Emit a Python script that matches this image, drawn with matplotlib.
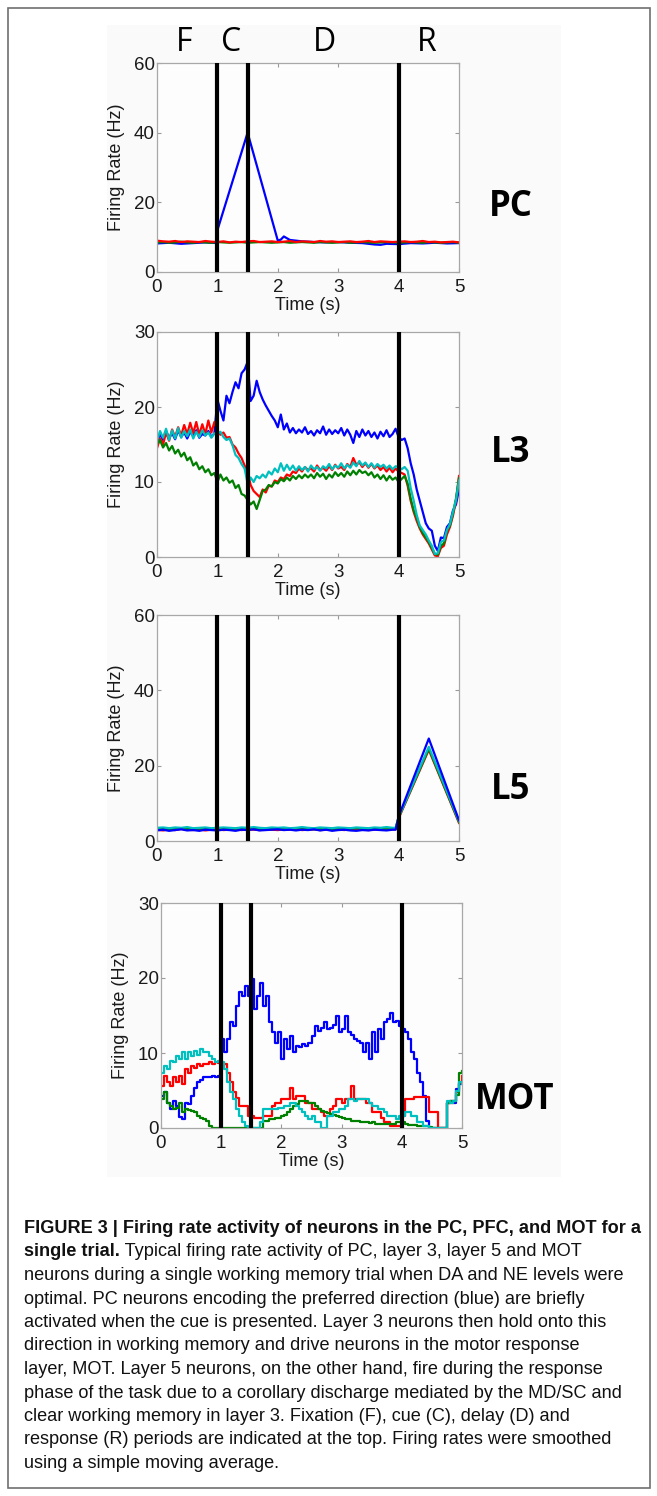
import numpy as np
import matplotlib
matplotlib.use("Agg")
import matplotlib.pyplot as plt
from matplotlib.patches import Rectangle
from matplotlib.transforms import blended_transform_factory

W, H = 657, 1496  # output size in px (dpi 100)

# ---------------- data ----------------
# common 50 ms time grid for the L3 and MOT traces
t_grid = np.round(np.arange(101) * 0.05, 2)

# PC layer
pc_blue_t = [0.0, 0.2, 0.4, 0.6, 0.8, 1.0, 1.0, 1.5, 2.0, 2.05, 2.1, 2.2, 2.4,
             2.6, 2.8, 3.0, 3.2, 3.4, 3.6, 3.7, 3.8, 4.0, 4.2, 4.4, 4.6, 4.8, 5.0]
pc_blue = [8.2, 8.4, 8.1, 8.3, 8.5, 8.3, 12.0, 40.0, 9.0, 9.3, 10.2, 9.2, 8.8,
           8.6, 8.5, 8.6, 8.4, 8.3, 7.9, 7.8, 8.1, 8.0, 8.3, 8.2, 8.4, 8.2, 8.3]
pc_t = np.round(np.arange(51) * 0.1, 1)
pc_green = [8.5, 8.6, 8.4, 8.5, 8.7, 8.5, 8.4, 8.6, 8.5, 8.4,
            8.6, 8.5, 8.4, 8.5, 8.6, 8.4, 8.5, 8.6, 8.5, 8.4,
            8.5, 8.6, 8.4, 8.5, 8.6, 8.5, 8.4, 8.6, 8.5, 8.4,
            8.5, 8.6, 8.4, 8.5, 8.6, 8.5, 8.4, 8.5, 8.6, 8.5,
            8.4, 8.5, 8.6, 8.5, 8.4, 8.6, 8.5, 8.4, 8.5, 8.6, 8.4]
pc_red = [9.0, 8.8, 8.7, 8.9, 8.6, 8.8, 8.7, 8.6, 8.9, 8.7,
          8.6, 8.8, 8.5, 8.7, 8.6, 8.8, 8.9, 8.6, 8.7, 8.8,
          8.6, 8.7, 8.9, 8.6, 8.8, 8.7, 8.6, 8.9, 8.7, 8.8,
          8.6, 8.7, 8.8, 8.6, 8.7, 8.9, 8.6, 8.8, 8.7, 8.6,
          8.7, 8.8, 8.6, 8.7, 8.9, 8.6, 8.7, 8.5, 8.6, 8.7, 8.5]

# layer 3
l3_blue = [15.2, 16.4, 15.6, 16.8, 15.9, 16.5, 15.7, 16.9, 16.0, 16.6,
           15.8, 16.7, 16.1, 16.9, 15.9, 16.4, 16.2, 16.8, 16.0, 16.5,
           21.0, 19.5, 18.2, 21.5, 20.5, 22.0, 23.3, 22.5, 24.5, 25.0,
           26.0, 20.8, 21.5, 23.5, 22.0, 21.0, 20.2, 19.5, 18.8, 18.2,
           17.3, 19.0, 17.0, 17.8, 16.6, 17.2, 16.5, 17.0, 16.6, 17.3,
           16.4, 16.8, 16.2, 16.9, 16.5, 17.4, 16.3, 17.0, 16.4, 16.9,
           16.5, 17.2, 16.2, 17.0, 16.3, 15.2, 16.8, 16.0, 17.0, 16.2,
           16.8, 16.0, 16.6, 15.8, 16.7, 16.1, 16.9, 16.0, 16.4, 17.1,
           16.0, 15.6, 15.8, 14.5, 12.5, 11.0, 9.0, 7.5, 6.0, 4.5,
           3.8, 3.5, 1.5, 0.8, 2.6, 2.5, 4.0, 4.5, 6.2, 7.0,
           9.0]
l3_red = [14.5, 15.8, 15.0, 16.6, 15.5, 17.0, 16.0, 17.3, 16.2, 17.6,
          16.4, 17.9, 16.5, 18.0, 16.3, 17.7, 16.4, 18.2, 16.6, 18.0,
          16.8, 16.3, 16.6, 15.9, 16.0, 15.0, 14.6, 13.8, 13.2, 12.2,
          11.4, 9.6, 8.8, 8.4, 8.0, 9.0, 8.6, 9.5, 9.4, 10.2,
          10.0, 10.6, 10.4, 11.0, 10.8, 11.4, 11.2, 11.8, 11.4, 12.0,
          11.6, 11.8, 11.4, 12.2, 11.6, 11.9, 11.5, 12.1, 11.6, 12.3,
          11.8, 12.0, 11.6, 12.4, 12.0, 13.2, 12.3, 12.6, 12.0, 12.5,
          11.9, 12.4, 11.8, 12.2, 11.6, 12.0, 11.4, 11.9, 11.3, 11.8,
          11.4, 11.2, 11.0, 9.5, 7.5, 6.0, 4.8, 3.8, 3.0, 2.4,
          1.8, 1.0, 0.2, 0.1, 1.2, 1.5, 3.0, 4.0, 5.5, 7.5,
          10.8]
l3_green = [15.0, 15.6, 14.6, 15.2, 14.2, 14.8, 13.8, 14.3, 13.4, 13.9,
            12.9, 13.3, 12.2, 12.6, 11.7, 12.1, 11.3, 11.7, 10.9, 11.2,
            10.0, 11.0, 10.2, 10.6, 9.9, 10.2, 9.2, 9.6, 8.4, 8.2,
            7.6, 7.0, 7.4, 6.4, 7.6, 8.8, 9.0, 9.6, 9.4, 10.0,
            9.8, 10.4, 10.1, 10.6, 10.2, 10.8, 10.4, 10.9, 10.5, 11.0,
            10.6, 11.0, 10.5, 11.2, 10.7, 11.1, 10.4, 11.0, 10.6, 11.3,
            10.8, 11.2, 10.7, 11.4, 10.9, 11.5, 11.0, 11.6, 11.2, 11.4,
            10.9, 11.3, 10.6, 11.0, 10.4, 10.9, 10.2, 10.8, 10.3, 10.6,
            10.0, 10.4, 10.8, 9.8, 7.8, 6.2, 5.2, 4.0, 3.2, 2.6,
            2.0, 1.2, 0.4, 0.3, 1.5, 1.8, 3.5, 4.2, 5.8, 7.8,
            10.5]
l3_cyan = [15.5, 16.8, 15.9, 17.1, 15.6, 16.9, 15.8, 17.2, 15.9, 16.8,
           16.1, 17.0, 15.8, 16.7, 16.0, 16.9, 16.2, 16.6, 15.9, 16.5,
           16.4, 16.7, 16.0, 15.6, 15.8, 14.9, 13.6, 13.2, 12.4, 11.8,
           9.8, 10.6, 10.0, 10.8, 10.5, 11.0, 10.6, 11.4, 11.0, 11.8,
           11.3, 12.5, 11.5, 12.3, 11.6, 12.2, 11.5, 12.1, 11.6, 12.0,
           11.4, 12.2, 11.7, 12.0, 11.5, 12.1, 11.8, 12.4, 11.7, 12.2,
           11.9, 12.5, 11.8, 12.3, 11.9, 12.6, 12.1, 12.8, 12.2, 12.6,
           12.0, 12.5, 11.9, 12.4, 12.0, 12.3, 11.8, 12.2, 11.7, 12.1,
           12.0, 11.7, 12.0, 11.5, 9.2, 7.5, 5.6, 4.2, 3.6, 3.0,
           2.2, 1.5, 0.4, 0.5, 2.0, 2.2, 3.6, 4.4, 6.0, 7.6,
           10.2]

# layer 5
l5_t = [0.0, 0.1, 0.2, 0.3, 0.4, 0.5, 0.6, 0.7, 0.8, 0.9,
        1.0, 1.1, 1.2, 1.3, 1.4, 1.5, 1.6, 1.7, 1.8, 1.9,
        2.0, 2.1, 2.2, 2.3, 2.4, 2.5, 2.6, 2.7, 2.8, 2.9,
        3.0, 3.1, 3.2, 3.3, 3.4, 3.5, 3.6, 3.7, 3.8, 3.9,
        3.95, 4.0, 4.5, 5.0]
l5_blue = [2.8, 3.0, 2.7, 2.9, 3.1, 2.8, 2.9, 2.7, 3.0, 2.9,
           2.8, 3.0, 2.9, 2.7, 3.0, 2.9, 3.1, 2.8, 2.9, 3.0,
           3.1, 2.9, 3.0, 2.8, 3.0, 2.9, 3.1, 2.8, 3.0, 2.7,
           2.9, 3.0, 2.8, 2.7, 2.9, 2.8, 3.0, 2.9, 2.8, 3.0,
           3.0, 6.5, 27.2, 5.5]
l5_red = [3.0, 2.8, 3.1, 2.9, 3.2, 3.0, 2.9, 3.1, 2.8, 3.0,
          3.1, 2.9, 3.0, 3.2, 2.9, 3.1, 3.0, 2.9, 3.2, 3.0,
          2.9, 3.1, 3.0, 3.2, 2.9, 3.0, 3.1, 2.9, 3.0, 3.3,
          3.1, 2.9, 3.2, 3.0, 3.1, 2.9, 3.0, 3.2, 3.0, 3.1,
          3.1, 6.0, 24.2, 4.8]
l5_green = [3.2, 3.3, 3.1, 3.2, 3.4, 3.2, 3.1, 3.3, 3.2, 3.1,
            3.3, 3.2, 3.1, 3.3, 3.2, 3.4, 3.2, 3.1, 3.3, 3.2,
            3.3, 3.1, 3.2, 3.4, 3.2, 3.3, 3.1, 3.2, 3.3, 3.2,
            3.1, 3.3, 3.2, 3.4, 3.2, 3.1, 3.3, 3.2, 3.1, 3.2,
            3.2, 6.2, 24.5, 5.0]
l5_cyan = [3.5, 3.6, 3.4, 3.6, 3.5, 3.7, 3.4, 3.5, 3.6, 3.4,
           3.5, 3.6, 3.5, 3.4, 3.6, 3.5, 3.7, 3.5, 3.4, 3.6,
           3.5, 3.6, 3.4, 3.5, 3.7, 3.5, 3.4, 3.6, 3.5, 3.4,
           3.6, 3.5, 3.4, 3.6, 3.5, 3.4, 3.6, 3.5, 3.7, 3.5,
           3.5, 6.3, 25.0, 5.3]

# motor layer
mot_blue = [4.3, 4.8, 3.4, 2.5, 3.6, 3.0, 1.5, 1.2, 3.4, 3.2,
            4.3, 5.4, 6.1, 6.4, 6.8, 6.8, 6.8, 6.9, 6.8, 7.0,
            11.9, 10.1, 11.9, 14.1, 13.6, 16.3, 18.1, 17.6, 19.0, 17.6,
            19.9, 15.9, 17.6, 19.4, 16.3, 17.6, 14.1, 12.8, 11.4, 12.8,
            9.2, 11.9, 10.5, 12.3, 10.1, 11.0, 10.8, 11.2, 11.0, 11.4,
            12.3, 13.6, 13.0, 13.4, 14.1, 13.2, 13.4, 13.8, 15.0, 12.8,
            13.2, 15.0, 12.8, 12.4, 11.9, 11.6, 11.4, 10.1, 11.4, 9.2,
            12.8, 10.1, 13.2, 11.9, 14.1, 14.5, 15.4, 14.1, 14.3, 13.6,
            13.2, 12.8, 11.9, 10.1, 9.2, 7.4, 6.1, 4.3, 1.0, 0.0,
            0.0, 0.0, 0.0, 0.0, 0.0, 3.4, 3.6, 3.4, 5.2, 5.9,
            6.1]
mot_red = [5.6, 7.0, 6.2, 5.6, 6.8, 6.2, 7.0, 5.9, 7.9, 7.4,
           8.3, 8.0, 8.5, 8.3, 8.5, 8.6, 8.8, 8.6, 8.8, 8.7,
           8.3, 8.5, 7.4, 6.1, 4.8, 4.0, 3.0, 3.0, 3.0, 1.6,
           1.6, 1.4, 1.4, 1.4, 1.6, 1.6, 1.6, 3.0, 3.4, 3.4,
           3.9, 3.9, 3.9, 5.4, 3.9, 4.3, 4.3, 4.3, 3.4, 3.4,
           2.5, 2.5, 2.5, 2.1, 1.6, 1.6, 2.5, 3.0, 3.9, 3.9,
           3.4, 3.9, 3.9, 5.6, 3.9, 3.9, 3.9, 3.9, 3.4, 3.4,
           2.1, 2.1, 2.1, 1.4, 0.8, 0.8, 0.3, 0.3, 0.3, 0.3,
           1.6, 3.9, 3.9, 3.9, 4.1, 4.1, 4.1, 4.1, 4.1, 2.1,
           2.1, 2.1, 0.0, 0.0, 0.0, 3.4, 3.4, 3.6, 4.8, 6.0,
           7.0]
mot_green = [3.9, 4.8, 3.4, 3.0, 2.5, 2.7, 3.4, 2.2, 2.5, 2.4,
             2.3, 2.1, 1.6, 1.4, 1.2, 1.0, 0.3, 0.0, 0.0, 0.0,
             0.0, 0.0, 0.0, 0.0, 0.0, 0.0, 0.0, 0.0, 0.0, 0.0,
             0.0, 0.0, 0.0, 0.0, 1.0, 1.0, 1.2, 1.2, 1.4, 1.4,
             1.6, 1.8, 2.1, 2.5, 3.0, 3.2, 3.6, 3.6, 3.6, 3.4,
             3.4, 3.0, 2.5, 2.3, 2.1, 2.0, 1.9, 1.7, 1.6, 1.5,
             1.4, 1.2, 1.2, 1.0, 1.0, 0.9, 0.8, 0.8, 0.8, 0.7,
             0.8, 0.6, 0.5, 0.5, 0.5, 0.5, 0.5, 0.6, 0.8, 0.8,
             0.8, 0.6, 0.4, 0.4, 0.4, 0.3, 0.3, 0.3, 0.3, 0.2,
             0.0, 0.0, 0.0, 0.0, 0.0, 3.4, 3.6, 3.6, 4.4, 7.4,
             7.6]
mot_cyan = [7.4, 8.3, 7.9, 9.0, 8.8, 9.6, 9.2, 10.1, 9.2, 10.1,
            9.6, 10.3, 9.8, 10.5, 10.1, 10.2, 9.6, 9.2, 8.8, 9.0,
            8.8, 7.9, 6.1, 4.8, 3.9, 2.5, 1.6, 0.8, 0.3, 0.0,
            0.0, 0.0, 0.0, 0.8, 2.5, 2.5, 2.5, 2.5, 2.5, 2.7,
            2.7, 3.0, 3.0, 3.4, 3.4, 3.0, 2.5, 2.1, 1.6, 1.2,
            1.6, 0.8, 0.8, 0.0, 0.0, 1.6, 1.6, 2.1, 2.1, 2.5,
            2.5, 3.0, 3.9, 3.9, 3.6, 3.9, 3.9, 3.9, 3.9, 3.4,
            3.0, 3.0, 2.5, 2.5, 2.1, 1.6, 1.6, 1.6, 1.2, 1.6,
            1.6, 2.1, 2.1, 1.6, 1.6, 0.8, 0.8, 0.3, 0.3, 0.0,
            0.0, 0.0, 0.0, 0.0, 0.0, 3.6, 3.4, 3.6, 5.0, 6.1,
            5.9]

# task epochs
epoch_edges = [1.0, 1.5, 4.0]
epoch_labels = ["F", "C", "D", "R"]
epoch_label_x = [0.45, 1.22, 2.78, 4.47]

caption_lines = [
    "FIGURE 3 | Firing rate activity of neurons in the PC, PFC, and MOT for a",
    "single trial.",
    "neurons during a single working memory trial when DA and NE levels were",
    "optimal. PC neurons encoding the preferred direction (blue) are briefly",
    "activated when the cue is presented. Layer 3 neurons then hold onto this",
    "direction in working memory and drive neurons in the motor response",
    "layer, MOT. Layer 5 neurons, on the other hand, fire during the response",
    "phase of the task due to a corollary discharge mediated by the MD/SC and",
    "clear working memory in layer 3. Fixation (F), cue (C), delay (D) and",
    "response (R) periods are indicated at the top. Firing rates were smoothed",
    "using a simple moving average.",
]
caption_line2_rest = " Typical firing rate activity of PC, layer 3, layer 5 and MOT"

BLUE, RED, GREEN, CYAN = "#0000ff", "#ff0000", "#008000", "#00bfbf"

plt.rcParams["font.family"] = ["Liberation Sans", "DejaVu Sans"]

fig = plt.figure(figsize=(W / 100, H / 100), dpi=100)
fig.patch.set_facecolor("white")


def fx(x):
    return x / W


def fy(y):
    return 1 - y / H


# outer frame and the light grey figure area
fig.add_artist(Rectangle((fx(8), fy(1488)), fx(642), (1488 - 8) / H,
                         transform=fig.transFigure, fill=False,
                         edgecolor="#707070", lw=1.2))
fig.add_artist(Rectangle((fx(107), fy(1177)), fx(454), (1177 - 25) / H,
                         transform=fig.transFigure, facecolor="#fafafa",
                         edgecolor="none", zorder=0))


def make_axes(x0, y0, x1, y1):
    return fig.add_axes([fx(x0), fy(y1), (x1 - x0) / W, (y1 - y0) / H])


def style(ax, ymax, yticks, hpx):
    ax.set_facecolor("#fdfdfd")
    ax.set_xlim(0, 5)
    ax.set_ylim(0, ymax)
    ax.set_xticks(range(6))
    ax.set_yticks(yticks)
    ax.tick_params(direction="in", length=3, width=0.8, color="#9a9a9a",
                   top=True, right=True, labelsize=13.5, labelcolor="#1a1a1a")
    ax.tick_params(axis="x", pad=5)
    ax.tick_params(axis="y", pad=1.5)
    for s in ax.spines.values():
        s.set_color("#a8a8a8")
        s.set_linewidth(0.9)
    for e in epoch_edges:
        ax.axvline(e, color="black", lw=3, zorder=5)
    ax.set_xlabel("Time (s)", fontsize=13, color="#1a1a1a", va="top")
    ax.xaxis.set_label_coords(0.5, -25 / hpx)
    ax.set_ylabel("Firing Rate (Hz)", fontsize=13, color="#1a1a1a")
    ax.yaxis.set_label_coords(-0.105, 0.5)


lw = 1.6
# PC
ax1 = make_axes(157, 63, 459, 272)
ax1.plot(pc_blue_t, pc_blue, color=BLUE, lw=lw)
ax1.plot(pc_t, pc_green, color=GREEN, lw=lw)
ax1.plot(pc_t, pc_red, color=RED, lw=lw)
style(ax1, 60, [0, 20, 40, 60], 209)
trans = blended_transform_factory(ax1.transData, ax1.transAxes)
for lab, x in zip(epoch_labels, epoch_label_x):
    ax1.text(x, 1 + 21 / 209, lab, transform=trans, ha="center", va="center",
             fontsize=23, family="Open Sans", clip_on=False)
ax1.text(1.17, 0.31, "PC", transform=ax1.transAxes, ha="center", va="center",
         fontsize=25, fontweight="bold", family="Open Sans")

# L3
ax2 = make_axes(157, 332, 459, 557)
for y, c in [(l3_blue, BLUE), (l3_red, RED), (l3_green, GREEN), (l3_cyan, CYAN)]:
    ax2.plot(t_grid, y, color=c, lw=lw)
style(ax2, 30, [0, 10, 20, 30], 225)
ax2.text(1.17, 0.46, "L3", transform=ax2.transAxes, ha="center", va="center",
         fontsize=25, fontweight="bold", family="Open Sans")

# L5
ax3 = make_axes(157, 615, 459, 841)
for y, c in [(l5_red, RED), (l5_green, GREEN), (l5_cyan, CYAN), (l5_blue, BLUE)]:
    ax3.plot(l5_t, y, color=c, lw=lw)
style(ax3, 60, [0, 20, 40, 60], 226)
ax3.text(1.17, 0.226, "L5", transform=ax3.transAxes, ha="center", va="center",
         fontsize=25, fontweight="bold", family="Open Sans")

# MOT
ax4 = make_axes(161, 903, 462, 1128)
for y, c in [(mot_blue, BLUE), (mot_red, RED), (mot_green, GREEN), (mot_cyan, CYAN)]:
    ax4.plot(t_grid, y, color=c, lw=lw, drawstyle="steps-post")
style(ax4, 30, [0, 10, 20, 30], 225)
ax4.text(1.176, 0.125, "MOT", transform=ax4.transAxes, ha="center", va="center",
         fontsize=25, fontweight="bold", family="Open Sans")

# caption: size chosen so the bold first line spans the text block width
cap_family = ["Liberation Sans Narrow", "Liberation Sans", "DejaVu Sans"]
renderer = fig.canvas.get_renderer()
probe = fig.text(0, 0, caption_lines[0], fontsize=10, family=cap_family,
                 fontweight="bold")
size = 10 * 618 / probe.get_window_extent(renderer).width
probe.remove()

x0 = fx(24)
for i, line in enumerate(caption_lines):
    yb = fy(1233 + i * 23.5)
    bold = i < 2
    t = fig.text(x0, yb, line, fontsize=size, family=cap_family,
                 fontweight="bold" if bold else "normal", color="#111111",
                 va="baseline", ha="left")
    if i == 1:
        w = t.get_window_extent(renderer).width
        fig.text(x0 + w / W, yb, caption_line2_rest, fontsize=size,
                 family=cap_family, color="#111111", va="baseline", ha="left")

fig.savefig("out.png", dpi=100)
